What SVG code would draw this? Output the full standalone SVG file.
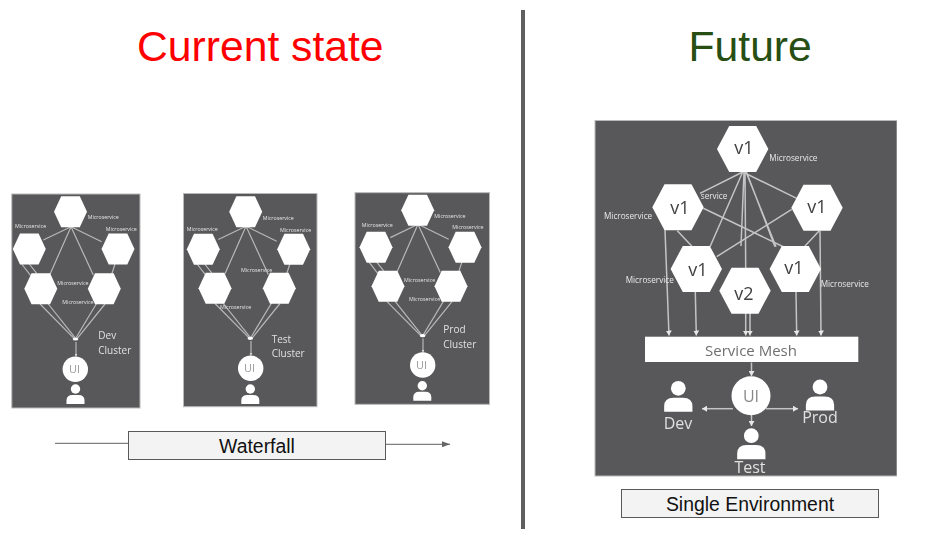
<svg xmlns="http://www.w3.org/2000/svg" width="927" height="537" viewBox="0 0 927 537">
<style>
text{font-family:"Open Sans","Liberation Sans",sans-serif}
.title{font-family:"Liberation Sans",Arial,sans-serif;font-size:42.67px}
.cap{font-family:"Liberation Sans",Arial,sans-serif;font-size:19.4px;fill:#111;text-anchor:middle}
.box{fill:#f3f3f3;stroke:#595959;stroke-width:1}
.panel{fill:#58585a;stroke:#b9b9b9;stroke-width:1}
.hex{fill:#fff}
.l{stroke:#b8b8b8;stroke-width:1.2;fill:none}
.L{stroke:#c4c4c4;stroke-width:1.5;fill:none}
.ms{font-size:5.3px;fill:#e4e4e4}
.MS{font-size:8.2px;fill:#e8e8e8}
.cl{font-size:10px;fill:#e0e0e0}
.ui{font-size:11px;fill:#999;text-anchor:middle}
.v{font-size:18px;fill:#404040;text-anchor:middle}
.who{font-size:16px;fill:#e0e0e0;text-anchor:middle}
</style>
<defs>
<filter id="soft" x="0" y="0" width="100%" height="100%"><feGaussianBlur stdDeviation="0.6"/></filter>
<marker id="ah" markerUnits="userSpaceOnUse" markerWidth="7" markerHeight="6" refX="5" refY="3" orient="auto"><path d="M0,0 L5,3 L0,6z" fill="#e8e8e8"/></marker>
<marker id="as" markerUnits="userSpaceOnUse" markerWidth="4" markerHeight="4" refX="3" refY="2" orient="auto"><path d="M0,0.4 L3,2 L0,3.6z" fill="#d8d8d8"/></marker>
<marker id="ag" markerUnits="userSpaceOnUse" markerWidth="8" markerHeight="8" refX="8" refY="3" orient="auto"><path d="M0,0 L8,3 L0,6z" fill="#666"/></marker>
<polygon id="h" class="hex" points="-16.5,0 -9.3,-15.5 9.3,-15.5 16.5,0 9.3,15.5 -9.3,15.5"/>
<polygon id="H" class="hex" points="-25.7,0 -13.5,-23 13.5,-23 25.7,0 13.5,23 -13.5,23"/>
<g id="p" fill="#fff"><circle r="4.7"/><path d="M-9,15 v-3.5 q0,-5.5 6,-5.5 h6 q6,0 6,5.5 v3.5z"/></g>
<g id="links" class="l">
<path d="M71,226.7L43.3,240M71,226.7L101.7,241.7M71,226.7L50,274.3M71,226.7L93.3,275"/>
<path d="M21.7,264L30.7,275.7M29.3,264L36.7,273.3M115,264L111.7,274.3"/>
<path d="M40,304L74,338.3M48.3,304L75,337.7M96.7,303.3L76,337.7M105,304L77.3,338.3"/>
</g>
</defs>
<rect width="927" height="537" fill="#fff"/>
<text class="title" x="137" y="61" fill="#f00">Current state</text>
<text class="title" x="688.5" y="61" fill="#274e13">Future</text>
<line id="divider" x1="523" y1="10" x2="523" y2="529" stroke="#5f5f5f" stroke-width="4"/>

<g filter="url(#soft)">
<rect id="panel-dev" class="panel" x="11.8" y="194" width="128.2" height="214"/>
<rect id="panel-test" class="panel" x="183.5" y="193.5" width="133.5" height="213.2"/>
<rect id="panel-prod" class="panel" x="355" y="192.7" width="134.5" height="211.6"/>
<rect id="panel-future" class="panel" x="595" y="120.5" width="302" height="355.5"/>

<g id="connectors">
<use href="#links"/>
<use href="#links" transform="translate(175,-0.5)"/>
<use href="#links" transform="translate(347,-2.4)"/>
<path class="l" marker-end="url(#as)" d="M76,342V356.5"/>
<path class="l" marker-end="url(#as)" d="M251,341V355.5"/>
<path class="l" marker-end="url(#as)" d="M423,338.5V352.5"/>
<g class="L">
<path d="M742.7,172L700,193.3M742.7,172L796.7,198.3M742.7,172L710,246.7M746,172L776,246.7M744,172L741,246M745,172L745.7,268M746.5,172L775,246.7"/>
<path d="M703.3,208.3L783.3,246.7M791.7,209.3L716.7,256.7M677.3,230.7L691.7,246M819.3,230.7L805,246"/>
</g>
<g class="L">
<path marker-end="url(#ah)" d="M665,230L669,335.5"/>
<path marker-end="url(#ah)" d="M695.3,292L696.3,335.5"/>
<path marker-end="url(#ah)" d="M745.7,313V335.5"/>
<path marker-end="url(#ah)" d="M750,313V335.5"/>
<path marker-end="url(#ah)" d="M796,292L796.7,335.5"/>
<path marker-end="url(#ah)" d="M820,231L821,335.5"/>
<path marker-end="url(#ah)" d="M751.5,362.5V376"/>
<path marker-end="url(#ah)" d="M733,408.7H702"/>
<path marker-end="url(#ah)" d="M766,408.7H798"/>
<path marker-end="url(#ah)" d="M751.5,415V426"/>
</g>
</g>

<g id="dev-cluster">
<g id="dev-top"><use href="#h" x="70.5" y="211.7"/><text class="ms" x="87.7" y="219.3">Microservice</text></g>
<g id="dev-left"><use href="#h" x="29.3" y="249"/><text class="ms" x="15" y="228.3">Microservice</text></g>
<g id="dev-right"><use href="#h" x="118" y="249"/><text class="ms" x="105.7" y="230.7">Microservice</text></g>
<g id="dev-lower-left"><use href="#h" x="40.8" y="288.7"/><text class="ms" x="57.3" y="284.7">Microservice</text></g>
<g id="dev-lower-right"><use href="#h" x="104.3" y="288.7"/><text class="ms" x="62.3" y="304">Microservice</text></g>
<ellipse id="dev-hub" cx="75.5" cy="339" rx="2.8" ry="1.6" fill="#fff"/>
<g id="dev-ui"><circle cx="75.3" cy="369.3" r="12.7" fill="#fff"/><text class="ui" x="74.5" y="373">UI</text></g>
<use id="dev-user" href="#p" x="75.5" y="389"/>
<g id="dev-label"><text class="cl" x="98.3" y="339.3">Dev</text><text class="cl" x="98.3" y="354">Cluster</text></g>
</g>

<g id="test-cluster">
<g id="test-top"><use href="#h" x="245.7" y="211.7"/><text class="ms" x="262.7" y="220">Microservice</text></g>
<g id="test-left"><use href="#h" x="203.3" y="249.3"/><text class="ms" x="186.7" y="231">Microservice</text></g>
<g id="test-right"><use href="#h" x="293.7" y="249.3"/><text class="ms" x="280" y="232">Microservice</text></g>
<g id="test-lower-left"><use href="#h" x="215" y="288.3"/><text class="ms" x="220" y="309.3">Microservice</text></g>
<g id="test-lower-right"><use href="#h" x="279.3" y="288.3"/><text class="ms" x="241" y="272.3">Microservice</text></g>
<ellipse id="test-hub" cx="250.3" cy="338.3" rx="2.8" ry="1.6" fill="#fff"/>
<g id="test-ui"><circle cx="250.7" cy="368.3" r="12.7" fill="#fff"/><text class="ui" x="249.5" y="372">UI</text></g>
<use id="test-user" href="#p" x="250.3" y="389"/>
<g id="test-label"><text class="cl" x="271.7" y="342.7">Test</text><text class="cl" x="271.7" y="357.3">Cluster</text></g>
</g>

<g id="prod-cluster">
<g id="prod-top"><use href="#h" x="417.7" y="210.3"/><text class="ms" x="434.3" y="217.7">Microservice</text></g>
<g id="prod-left"><use href="#h" x="376" y="247.3"/><text class="ms" x="361.7" y="226.7">Microservice</text></g>
<g id="prod-right"><use href="#h" x="465" y="247.3"/><text class="ms" x="452.3" y="229.3">Microservice</text></g>
<g id="prod-lower-left"><use href="#h" x="388" y="286.3"/><text class="ms" x="404" y="282">Microservice</text></g>
<g id="prod-lower-right"><use href="#h" x="451" y="286.3"/><text class="ms" x="409" y="301">Microservice</text></g>
<ellipse id="prod-hub" cx="422.6" cy="335.7" rx="2.8" ry="1.6" fill="#fff"/>
<g id="prod-ui"><circle cx="422.7" cy="365" r="12.7" fill="#fff"/><text class="ui" x="421.5" y="369">UI</text></g>
<use id="prod-user" href="#p" x="422.3" y="385.7"/>
<g id="prod-label"><text class="cl" x="443.3" y="333.3">Prod</text><text class="cl" x="443.3" y="347.7">Cluster</text></g>
</g>

<g id="future">
<g id="f-top"><use href="#H" x="742.7" y="149"/><text class="v" x="744" y="154">v1</text><text class="MS" x="769.3" y="161">Microservice</text></g>
<text class="MS" x="727.3" y="199.3" text-anchor="end">service</text>
<g id="f-left"><use href="#H" x="678" y="207.3"/><text class="v" x="680" y="214">v1</text><text class="MS" x="604" y="219.3">Microservice</text></g>
<g id="f-right"><use href="#H" x="817" y="207.7"/><text class="v" x="817" y="213">v1</text></g>
<g id="f-lower-left"><use href="#H" x="696.3" y="269"/><text class="v" x="698" y="276">v1</text><text class="MS" x="625.7" y="283.3">Microservice</text></g>
<g id="f-lower-right"><use href="#H" x="795.3" y="269"/><text class="v" x="794" y="274">v1</text><text class="MS" x="820.7" y="286.7">Microservice</text></g>
<g id="f-v2"><use href="#H" x="745" y="290.7"/><text class="v" x="744" y="300">v2</text></g>
<g id="service-mesh"><rect x="645" y="336.7" width="213.3" height="25.3" fill="#fff"/><text x="751" y="355.5" font-size="15" fill="#707070" text-anchor="middle">Service Mesh</text></g>
<g id="f-ui"><circle cx="751" cy="395.7" r="19.5" fill="#fff"/><text x="751" y="401.5" font-size="16" fill="#888" text-anchor="middle">UI</text></g>
<g id="f-dev"><use href="#p" transform="translate(678.3,388.3) scale(1.57)"/><text class="who" x="678" y="429">Dev</text></g>
<g id="f-prod"><use href="#p" transform="translate(820,387) scale(1.57)"/><text class="who" x="820" y="423.3">Prod</text></g>
<g id="f-test"><use href="#p" transform="translate(751.3,435.7) scale(1.57)"/><text class="who" x="750" y="473.3">Test</text></g>
</g>
</g>

<g id="waterfall-arrow">
<path d="M55,443.3H128.5" stroke="#808080" stroke-width="1.2" fill="none"/>
<path d="M385,444.3H450" stroke="#808080" stroke-width="1.2" fill="none" marker-end="url(#ag)"/>
</g>
<g id="waterfall"><rect class="box" x="128.5" y="431.5" width="257" height="28"/><text class="cap" x="257" y="453">Waterfall</text></g>
<g id="single-environment"><rect class="box" x="621.5" y="489.5" width="257" height="28"/><text class="cap" x="750" y="511">Single Environment</text></g>
</svg>
